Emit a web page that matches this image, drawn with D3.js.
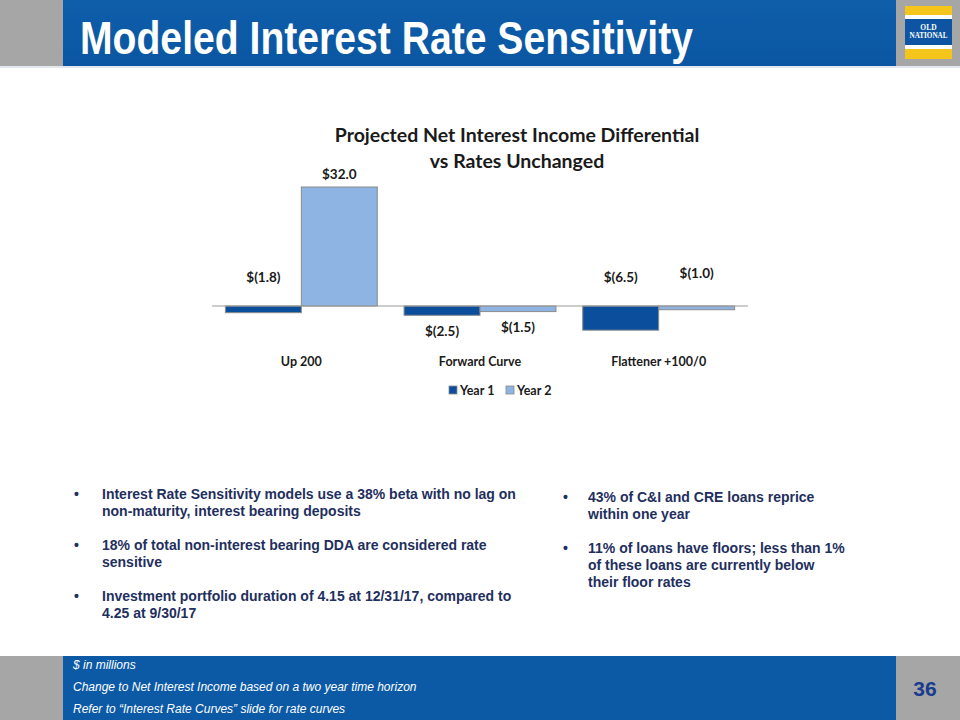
<!DOCTYPE html>
<html>
<head>
<meta charset="utf-8">
<script src="https://cdn.jsdelivr.net/npm/d3@7"></script>
<style>
  html, body { margin: 0; padding: 0; background: #ffffff; }
  svg { display: block; }
</style>
</head>
<body>
<svg id="slide" width="960" height="720"></svg>
<script>
// ---------- data ----------
const categories = ["Up 200", "Forward Curve", "Flattener +100/0"];
const seriesNames = ["Year 1", "Year 2"];
const year1 = [-1.8, -2.5, -6.5];
const year2 = [32.0, -1.5, -1.0];
const valueLabels1 = ["$(1.8)", "$(2.5)", "$(6.5)"];
const valueLabels2 = ["$32.0", "$(1.5)", "$(1.0)"];
const chartTitle = ["Projected Net Interest Income Differential", "vs Rates Unchanged"];
const slideTitle = "Modeled Interest Rate Sensitivity";
const leftBullets = [
  ["Interest Rate Sensitivity models use a 38% beta with no lag on", "non-maturity, interest bearing deposits"],
  ["18% of total non-interest bearing DDA are considered rate", "sensitive"],
  ["Investment portfolio duration of 4.15 at 12/31/17, compared to", "4.25 at 9/30/17"]
];
const rightBullets = [
  ["43% of C&I and CRE loans reprice", "within one year"],
  ["11% of loans have floors; less than 1%", "of these loans are currently below", "their floor rates"]
];
const footnotes = ["$ in millions", "Change to Net Interest Income based on a two year time horizon", "Refer to \u201cInterest Rate Curves\u201d slide for rate curves"];
const pageNumber = "36";

// ---------- styles ----------
const C_Y1 = "#0b4f9c", C_Y2 = "#8eb4e3", C_GREY = "#a6a6a6", C_BLUE = "#0c5aa6", C_NAVY = "#1f2f5e";
const series = [year1, year2];
const seriesLabels = [valueLabels1, valueLabels2];
const seriesColors = [C_Y1, C_Y2];

const svg = d3.select("#slide");

// ---------- header ----------
const defs = svg.append("defs");
const grad = defs.append("linearGradient").attr("id", "hdr").attr("x1", 0).attr("x2", 0).attr("y1", 0).attr("y2", 1);
grad.append("stop").attr("offset", "0%").attr("stop-color", "#0f5eaa");
grad.append("stop").attr("offset", "100%").attr("stop-color", "#0a56a3");

svg.append("rect").attr("x", 0).attr("y", 0).attr("width", 960).attr("height", 66).attr("fill", C_GREY);
svg.append("rect").attr("x", 63).attr("y", 0).attr("width", 833).attr("height", 66).attr("fill", "url(#hdr)");
svg.append("rect").attr("x", 0).attr("y", 66).attr("width", 960).attr("height", 2).attr("fill", "#e3e8ef");
svg.append("text").attr("x", 80).attr("y", 54)
  .attr("font-family", "'Liberation Sans Narrow', 'Arial Narrow', 'Liberation Sans', Arial, sans-serif")
  .attr("font-weight", "bold").attr("font-size", 47).attr("fill", "#ffffff")
  .attr("textLength", 613).attr("lengthAdjust", "spacingAndGlyphs")
  .text(slideTitle);

// logo
const logo = svg.append("g").attr("transform", "translate(905,6)");
logo.append("rect").attr("x", 0).attr("y", 0).attr("width", 47).attr("height", 53).attr("fill", "#f6c51b");
logo.append("rect").attr("x", 0).attr("y", 9).attr("width", 47).attr("height", 4).attr("fill", "#ffffff");
logo.append("rect").attr("x", 0).attr("y", 13).attr("width", 47).attr("height", 26).attr("fill", "#0d55a2");
logo.append("rect").attr("x", 0).attr("y", 39).attr("width", 47).attr("height", 4).attr("fill", "#ffffff");
logo.append("text").attr("x", 23.5).attr("y", 24).attr("text-anchor", "middle")
  .attr("font-family", "'Liberation Serif', serif").attr("font-weight", "bold").attr("font-size", 7.5).attr("fill", "#fff").text("OLD");
logo.append("text").attr("x", 23.5).attr("y", 32).attr("text-anchor", "middle")
  .attr("font-family", "'Liberation Serif', serif").attr("font-weight", "bold").attr("font-size", 7.5).attr("fill", "#fff")
  .attr("textLength", 38).attr("lengthAdjust", "spacingAndGlyphs").text("NATIONAL");

// ---------- footer ----------
svg.append("rect").attr("x", 0).attr("y", 656).attr("width", 960).attr("height", 64).attr("fill", C_GREY);
svg.append("rect").attr("x", 63).attr("y", 656).attr("width", 833).attr("height", 64).attr("fill", C_BLUE);
svg.selectAll("text.foot").data(footnotes).enter().append("text").attr("class", "foot")
  .attr("x", 73).attr("y", (d, i) => 669 + i * 22)
  .attr("font-family", "'Liberation Sans Narrow', 'Arial Narrow', 'Liberation Sans', sans-serif")
  .attr("font-style", "italic").attr("font-size", 12).attr("fill", "#ffffff")
  .text(d => d);
svg.append("text").attr("x", 925).attr("y", 696).attr("text-anchor", "middle")
  .attr("font-family", "'Liberation Sans', Arial, sans-serif").attr("font-weight", "bold")
  .attr("font-size", 21).attr("fill", "#1a3c8e").text(pageNumber);

// ---------- chart ----------
const chartFont = "Lato, 'Open Sans', sans-serif";
const x0 = d3.scaleBand().domain(categories).range([212, 748]).paddingInner(0.15).paddingOuter(0.075);
const x1 = d3.scaleBand().domain(seriesNames).range([0, x0.bandwidth()]);
const y = d3.scaleLinear().domain([0, 32]).range([306, 187]);

svg.selectAll("text.ctitle").data(chartTitle).enter().append("text").attr("class", "ctitle")
  .attr("x", 517).attr("y", (d, i) => 142 + i * 26).attr("text-anchor", "middle")
  .attr("font-family", chartFont).attr("font-weight", "bold").attr("font-size", 19.5).attr("fill", "#1a1a1a")
  .text(d => d);

const groups = svg.selectAll("g.cat").data(categories).enter().append("g").attr("class", "cat")
  .attr("transform", d => `translate(${x0(d)},0)`);

seriesNames.forEach((s, si) => {
  groups.append("rect")
    .attr("x", x1(s))
    .attr("width", x1.bandwidth())
    .attr("y", (d, ci) => y(Math.max(0, series[si][ci])))
    .attr("height", (d, ci) => Math.abs(y(series[si][ci]) - y(0)))
    .attr("fill", seriesColors[si])
    .attr("stroke", "#8a8a8a").attr("stroke-width", 1);
});

// zero line
svg.append("line").attr("x1", 212).attr("x2", 748).attr("y1", y(0)).attr("y2", y(0))
  .attr("stroke", "#9a9a9a").attr("stroke-width", 1);

// data labels (manually placed as in the original: offsets relative to the zero line)
const labelDy = [[-24, 30], [-28, 26]];
seriesNames.forEach((s, si) => {
  groups.append("text")
    .attr("x", x1(s) + x1.bandwidth() / 2)
    .attr("y", (d, ci) => {
      const v = series[si][ci];
      if (v > 0) return y(v) - 8;
      return y(0) + (ci === 1 ? labelDy[si][1] : labelDy[si][0]);
    })
    .attr("text-anchor", "middle")
    .attr("font-family", chartFont).attr("font-weight", "bold").attr("font-size", 13.5).attr("fill", "#1a1a1a")
    .text((d, ci) => seriesLabels[si][ci]);
});

// category axis labels
groups.append("text")
  .attr("x", x0.bandwidth() / 2).attr("y", 366).attr("text-anchor", "middle")
  .attr("font-family", chartFont).attr("font-weight", "bold").attr("font-size", 12.5).attr("fill", "#1a1a1a")
  .text(d => d);

// legend
const legend = svg.append("g").attr("transform", "translate(449,385)");
const legendX = [0, 57];
seriesNames.forEach((s, si) => {
  const g = legend.append("g").attr("transform", `translate(${legendX[si]},0)`);
  g.append("rect").attr("x", 0).attr("y", 1).attr("width", 8).attr("height", 8)
    .attr("fill", seriesColors[si]).attr("stroke", "#8a8a8a").attr("stroke-width", 0.8);
  g.append("text").attr("x", 11).attr("y", 10)
    .attr("font-family", chartFont).attr("font-weight", "bold").attr("font-size", 12.5).attr("fill", "#1a1a1a")
    .text(s);
});

// ---------- bullets ----------
function drawBullets(list, bx, tx, startY, lineH, gap) {
  let yy = startY;
  list.forEach(lines => {
    svg.append("text").attr("x", bx).attr("y", yy)
      .attr("font-family", "'Liberation Sans', Arial, sans-serif").attr("font-weight", "bold")
      .attr("font-size", 14).attr("fill", C_NAVY).text("\u2022");
    lines.forEach((ln, li) => {
      svg.append("text").attr("x", tx).attr("y", yy + li * lineH)
        .attr("font-family", "'Liberation Sans', Arial, sans-serif").attr("font-weight", "bold")
        .attr("font-size", 14).attr("fill", C_NAVY).text(ln);
    });
    yy += (lines.length - 1) * lineH + gap;
  });
}
drawBullets(leftBullets, 74, 102, 499, 17, 34);
drawBullets(rightBullets, 563, 588, 502, 17, 34);
</script>
</body>
</html>
